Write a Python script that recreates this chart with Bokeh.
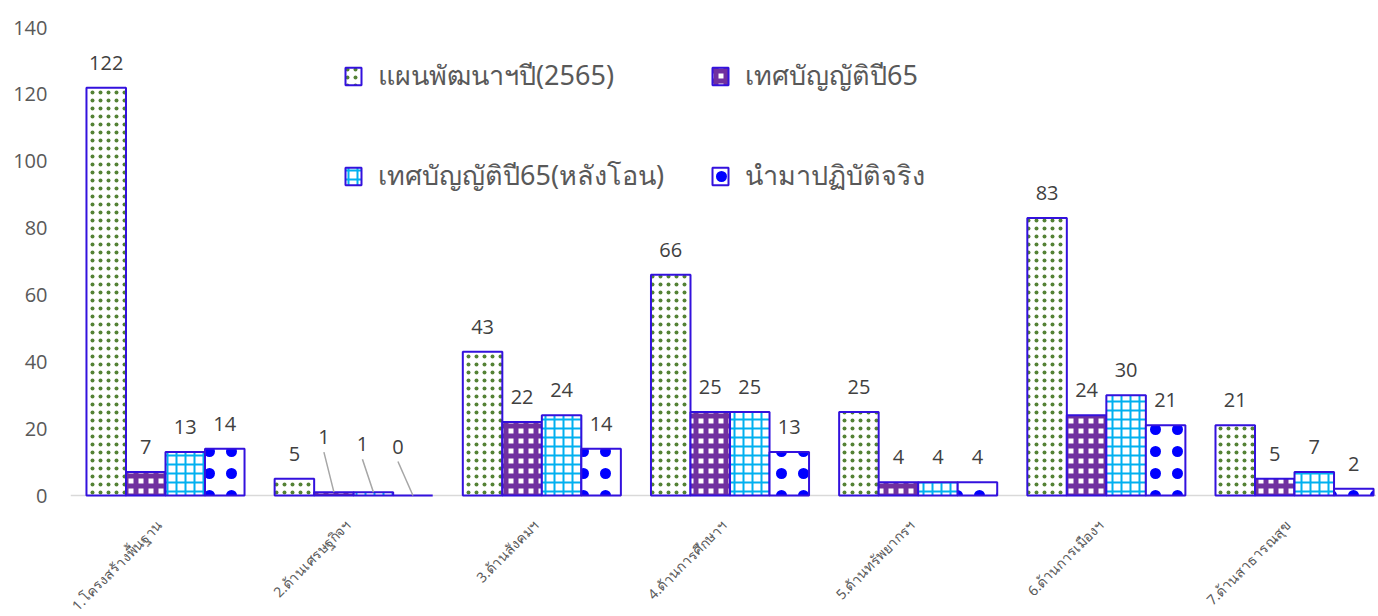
import math
from bokeh.plotting import figure
from bokeh.models import (ColumnDataSource, Range1d, FixedTicker, Legend, LegendItem)
from bokeh.core.properties import value
from bokeh.embed import file_html
from bokeh.resources import INLINE

# ---------------- data ----------------
categories = ["1.โครงสร้างพื้นฐาน", "2.ด้านเศรษฐกิจฯ", "3.ด้านสังคมฯ", "4.ด้านการศึกษาฯ",
              "5.ด้านทรัพยากรฯ", "6.ด้านการเมืองฯ", "7.ด้านสาธารณสุข"]
series_names = ["แผนพัฒนาฯปี(2565)", "เทศบัญญัติปี65", "เทศบัญญัติปี65(หลังโอน)", "นำมาปฏิบัติจริง"]
plan_2565 = [122, 5, 43, 66, 25, 83, 21]
budget_65 = [7, 1, 22, 25, 4, 24, 5]
budget_65_transfer = [13, 1, 24, 25, 4, 30, 7]
implemented = [14, 0, 14, 13, 4, 21, 2]
y_ticks = [0, 20, 40, 60, 80, 100, 120, 140]

series_values = [plan_2565, budget_65, budget_65_transfer, implemented]

# ---------------- layout / style ----------------
W, H = 1376, 614
LEFT, TOP, BASE = 70, 27, 495
PX_X = 188.17          # pixels per category
PX_Y = (BASE - TOP) / 140.0
x_start = -(165 - LEFT) / PX_X
x_end = x_start + (W - LEFT) / PX_X
y_start = -(H - BASE) / PX_Y
bar_w = 0.21
offsets = [-0.315, -0.105, 0.105, 0.315]
outline = "#3311DD"
TEXT = "#595959"
NUM = "#404040"

styles = [
    dict(fill_color="white", hatch_pattern="dot", hatch_color="#548235", hatch_scale=8, hatch_weight=4),
    dict(fill_color="white", hatch_pattern="cross", hatch_color="#7030A0", hatch_scale=10, hatch_weight=5),
    dict(fill_color="white", hatch_pattern="cross", hatch_color="#00B0F0", hatch_scale=9, hatch_weight=2),
    dict(fill_color="white", hatch_pattern="dot", hatch_color="#0000FF", hatch_scale=22, hatch_weight=12),
]

# callout labels (group, series) : (dx px, extra lift px)
callouts = {(1, 1): (-10, 30), (1, 2): (-11, 23), (1, 3): (-15, 24)}

p = figure(width=W, height=H, x_range=Range1d(x_start, x_end), y_range=Range1d(y_start, 140),
           output_backend="svg", toolbar_location=None,
           min_border_left=LEFT, min_border_right=0, min_border_top=TOP, min_border_bottom=0)
p.outline_line_color = None
p.grid.visible = False
p.xaxis.visible = False
p.background_fill_color = "white"
p.border_fill_color = "white"

p.yaxis.ticker = FixedTicker(ticks=y_ticks)
p.yaxis.axis_line_color = None
p.yaxis.major_tick_line_color = None
p.yaxis.minor_tick_line_color = None
p.yaxis.major_label_text_font = "Open Sans"
p.yaxis.major_label_text_font_size = "20px"
p.yaxis.major_label_text_color = TEXT
p.yaxis.major_label_standoff = 17

# baseline (value axis zero)
p.hspan(y=[0], line_color="#D9D9D9", line_width=1.5)

renderers = []
for k, vals in enumerate(series_values):
    xs = [i + offsets[k] for i in range(len(categories))]
    src = ColumnDataSource(dict(x=xs, top=vals))
    r = p.vbar(x="x", top="top", width=bar_w, source=src, line_color=outline, line_width=2, **styles[k])
    renderers.append(r)

    # data labels
    lx, ly, lt = [], [], []
    seg_x0, seg_y0, seg_x1, seg_y1 = [], [], [], []
    for i, v in enumerate(vals):
        xc = xs[i]
        if (i, k) in callouts:
            dx, lift = callouts[(i, k)]
            lx.append(xc + dx / PX_X)
            ly.append(v + (25 + lift) / PX_Y)
            seg_x0.append(xc); seg_y0.append(v)
            seg_x1.append(xc + dx / PX_X); seg_y1.append(v + (25 + lift - 15) / PX_Y)
        else:
            lx.append(xc)
            ly.append(v + 25 / PX_Y)
        lt.append(str(v))
    p.text(x=lx, y=ly, text=lt, text_align="center", text_baseline="middle",
           text_font=value("Open Sans"), text_font_size="20px", text_color=NUM)
    if seg_x0:
        p.segment(x0=seg_x0, y0=seg_y0, x1=seg_x1, y1=seg_y1, line_color="#A6A6A6", line_width=1.5)

# category labels (rotated, below the baseline)
p.text(x=list(range(len(categories))), y=[0] * len(categories), text=categories,
       angle=math.pi / 4, text_align="right", text_baseline="middle",
       x_offset=-6, y_offset=27, text_font=value("Noto Sans"), text_font_size="14px",
       text_color=TEXT)

# legends (2 x 2 grid)
leg_pos = [(273, 517), (640, 517), (273, 417), (640, 417)]
for k in range(4):
    lg = Legend(items=[LegendItem(label=series_names[k], renderers=[renderers[k]])],
                location=leg_pos[k], orientation="horizontal",
                glyph_width=20, glyph_height=22, label_standoff=15,
                label_text_font="Noto Sans", label_text_font_size="27px", label_text_color=TEXT,
                padding=0, margin=0, spacing=0, border_line_color=None, background_fill_alpha=0)
    p.add_layout(lg)

open("out.html", "w").write(file_html(p, INLINE))
